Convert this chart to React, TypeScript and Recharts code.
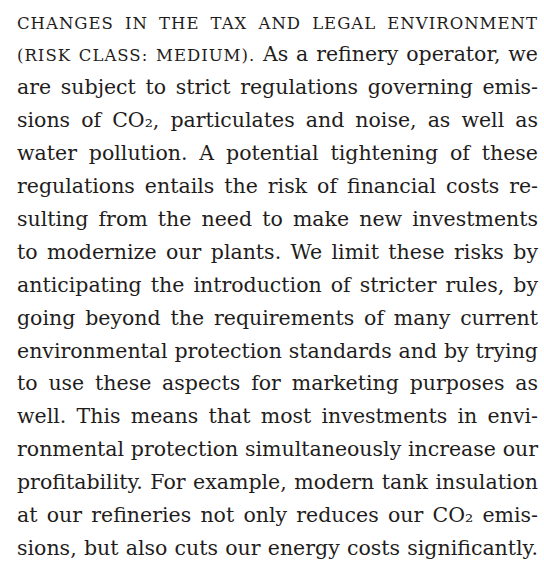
import React, { useEffect, useState } from 'react';
import { Surface, Layer } from 'recharts';

// one entry per printed line, hyphenation kept as in the print
const lines = [
  'Changes in the tax and legal environment',
  '(Risk class: medium). As a refinery operator, we',
  'are subject to strict regulations governing emis-',
  'sions of CO₂, particulates and noise, as well as',
  'water pollution. A potential tightening of these',
  'regulations entails the risk of financial costs re-',
  'sulting from the need to make new investments',
  'to modernize our plants. We limit these risks by',
  'anticipating the introduction of stricter rules, by',
  'going beyond the requirements of many current',
  'environmental protection standards and by trying',
  'to use these aspects for marketing purposes as',
  'well. This means that most investments in envi-',
  'ronmental protection simultaneously increase our',
  'profitability. For example, modern tank insulation',
  'at our refineries not only reduces our CO₂ emis-',
  'sions, but also cuts our energy costs significantly.',
];

// how many leading words of each line are set in small caps
const smallCapsWords = [7, 3];

const FONT = "'DejaVu Serif'";
const BODY_SIZE = 20.5;
const CAPS_SIZE = 16.5;
const CAPS_TRACK = 1;
const LEFT = 17;
const WIDTH = 521;
const TOP = 28.5;
const LEADING = 32.9;
const INK = '#1f1d1c';

let canvas: HTMLCanvasElement | null = null;

function measure(word: string, caps: boolean) {
  if (!canvas) canvas = document.createElement('canvas');
  const ctx = canvas.getContext('2d')!;
  ctx.font = `${caps ? CAPS_SIZE : BODY_SIZE}px ${FONT}`;
  const w = ctx.measureText(caps ? word.toUpperCase() : word).width;
  return caps ? w + CAPS_TRACK * word.length : w;
}

export default function App() {
  const [, setReady] = useState(false);
  useEffect(() => {
    document.fonts.ready.then(() => setReady(true));
  }, []);

  return (
    <div style={{ position: 'absolute', left: 0, top: 0, background: '#fff' }}>
      <Surface width={544} height={566}>
        {lines.map((line, i) => {
          const words = line.split(' ');
          const caps = smallCapsWords[i] ?? 0;
          const widths = words.map((w, j) => measure(w, j < caps));
          const total = widths.reduce((a, b) => a + b, 0);
          const gap = (WIDTH - total) / (words.length - 1);
          const y = TOP + i * LEADING;
          let x = LEFT;
          return (
            <Layer key={i}>
              {words.map((w, j) => {
                const isCaps = j < caps;
                const el = (
                  <text
                    key={j}
                    x={x}
                    y={y}
                    fill={INK}
                    style={{
                      fontFamily: FONT,
                      fontSize: isCaps ? CAPS_SIZE : BODY_SIZE,
                      letterSpacing: isCaps ? CAPS_TRACK : 0,
                    }}
                  >
                    {isCaps ? w.toUpperCase() : w}
                  </text>
                );
                x += widths[j] + gap;
                return el;
              })}
            </Layer>
          );
        })}
      </Surface>
    </div>
  );
}
